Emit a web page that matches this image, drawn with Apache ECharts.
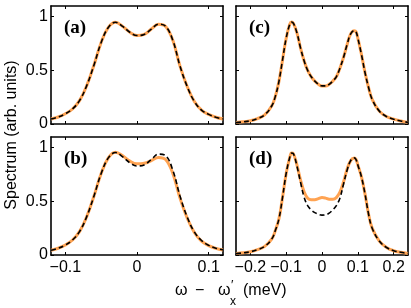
<!DOCTYPE html>
<html>
<head>
<meta charset="utf-8">
<script src="https://cdn.jsdelivr.net/npm/echarts@6/dist/echarts.min.js"></script>
<style>html,body{margin:0;padding:0;background:#fff}#c{width:411px;height:308px}</style>
</head>
<body>
<div id="c"></div>
<script>
// ---- data ----
const xLeft = [-0.12,-0.11,-0.10,-0.09,-0.08,-0.07,-0.06,-0.05,-0.04,-0.03,-0.02,-0.01,0,0.01,0.02,0.03,0.04,0.05,0.06,0.07,0.08,0.09,0.10,0.11,0.12];
const aDashed = [0.047,0.065,0.095,0.14,0.22,0.36,0.55,0.76,0.90,0.948,0.91,0.855,0.825,0.835,0.885,0.93,0.91,0.78,0.54,0.35,0.21,0.13,0.09,0.063,0.047];
const aSolid  = [0.047,0.065,0.095,0.14,0.22,0.36,0.55,0.76,0.90,0.948,0.91,0.855,0.825,0.835,0.885,0.93,0.91,0.78,0.54,0.35,0.21,0.13,0.09,0.063,0.047];
const bDashed = [0.045,0.063,0.093,0.14,0.22,0.36,0.55,0.76,0.905,0.955,0.915,0.86,0.83,0.84,0.89,0.94,0.925,0.79,0.55,0.355,0.215,0.135,0.09,0.063,0.047];
const bSolid  = [0.045,0.063,0.093,0.14,0.22,0.36,0.55,0.76,0.905,0.958,0.925,0.875,0.85,0.855,0.88,0.91,0.89,0.76,0.53,0.345,0.21,0.13,0.088,0.062,0.046];

const xRight = [-0.24,-0.22,-0.20,-0.18,-0.16,-0.14,-0.13,-0.12,-0.11,-0.10,-0.09,-0.085,-0.08,-0.07,-0.06,-0.05,-0.04,-0.03,-0.02,-0.01,0,0.01,0.02,0.03,0.04,0.05,0.06,0.07,0.08,0.09,0.095,0.10,0.11,0.12,0.13,0.14,0.16,0.18,0.20,0.22,0.24];
const cDashed = [0.013,0.02,0.03,0.05,0.085,0.17,0.26,0.40,0.60,0.80,0.93,0.95,0.94,0.85,0.71,0.59,0.50,0.44,0.40,0.37,0.355,0.355,0.37,0.40,0.44,0.52,0.62,0.74,0.84,0.87,0.86,0.80,0.65,0.48,0.34,0.23,0.12,0.07,0.045,0.028,0.015];
const cSolid  = [0.013,0.02,0.03,0.05,0.085,0.17,0.26,0.40,0.60,0.80,0.93,0.95,0.94,0.85,0.71,0.59,0.50,0.44,0.40,0.37,0.355,0.355,0.37,0.40,0.44,0.52,0.62,0.74,0.84,0.87,0.86,0.80,0.65,0.48,0.34,0.23,0.12,0.07,0.045,0.028,0.015];
const dDashed = [0.013,0.02,0.03,0.05,0.08,0.15,0.23,0.34,0.54,0.76,0.91,0.95,0.945,0.83,0.68,0.54,0.46,0.42,0.395,0.38,0.372,0.375,0.39,0.42,0.46,0.53,0.66,0.79,0.88,0.905,0.89,0.84,0.73,0.57,0.38,0.25,0.13,0.07,0.04,0.025,0.015];
const dSolid  = [0.013,0.02,0.03,0.05,0.08,0.15,0.23,0.34,0.54,0.76,0.91,0.95,0.945,0.84,0.70,0.59,0.53,0.515,0.515,0.525,0.535,0.53,0.52,0.52,0.535,0.585,0.68,0.80,0.88,0.905,0.89,0.84,0.73,0.57,0.38,0.25,0.13,0.07,0.04,0.025,0.015];

const xTicksLeft = [-0.1, 0, 0.1];
const xTicksRight = [-0.2, -0.1, 0, 0.1, 0.2];
const yTicks = [0, 0.5, 1];
const panelLabels = ['(a)', '(b)', '(c)', '(d)'];

// ---- chart ----
const FONT = '"Liberation Sans", Arial, Helvetica, sans-serif';
const ORANGE = '#FFA352';
const fmt = v => (v < 0 ? '\u2212' : '') + String(Math.abs(v));

const grids = [
  {left: 51, top: 6, width: 172, height: 118},   // a
  {left: 51, top: 137, width: 172, height: 118}, // b
  {left: 236, top: 6, width: 172, height: 118},  // c
  {left: 236, top: 137, width: 172, height: 118} // d
].map(g => Object.assign(g, {outerBoundsMode: 'none', containLabel: false}));

const xAxis = [], yAxis = [], series = [];
const lineCommon = {lineStyle: {color: '#000', width: 1.6}};

function addAxes(gi, xmin, xmax, xticks, showX, showY) {
  [['bottom', showX], ['top', false]].forEach(([pos, lab]) => {
    xAxis.push({
      type: 'value', gridIndex: gi, position: pos, min: xmin, max: xmax,
      axisLine: Object.assign({show: true, onZero: false}, lineCommon),
      axisTick: {show: true, inside: true, length: 3, customValues: xticks, lineStyle: {color: '#000', width: 1}},
      axisLabel: {show: lab, customValues: xticks, formatter: fmt, color: '#000', fontFamily: FONT, fontSize: 16, margin: 5},
      splitLine: {show: false}
    });
  });
  [['left', showY], ['right', false]].forEach(([pos, lab]) => {
    yAxis.push({
      type: 'value', gridIndex: gi, position: pos, min: 0, max: 1.1,
      axisLine: Object.assign({show: true, onZero: false}, lineCommon),
      axisTick: {show: true, inside: true, length: 3, customValues: yTicks, lineStyle: {color: '#000', width: 1}},
      axisLabel: {show: lab, customValues: yTicks, formatter: v => String(v), color: '#000', fontFamily: FONT, fontSize: 16, margin: 3},
      splitLine: {show: false}
    });
  });
}

addAxes(0, -0.12, 0.12, xTicksLeft, false, true);
addAxes(1, -0.12, 0.12, xTicksLeft, true, true);
addAxes(2, -0.24, 0.24, xTicksRight, false, false);
addAxes(3, -0.24, 0.24, xTicksRight, true, false);

const panels = [
  [xLeft, aSolid, aDashed],
  [xLeft, bSolid, bDashed],
  [xRight, cSolid, cDashed],
  [xRight, dSolid, dDashed]
];
panels.forEach(([xs, solid, dashed], gi) => {
  const ax = gi * 2;
  series.push({
    type: 'line', xAxisIndex: ax, yAxisIndex: ax, data: xs.map((x, i) => [x, solid[i]]),
    smooth: 0.4, showSymbol: false, symbol: 'none', clip: true,
    lineStyle: {color: ORANGE, width: 3}, z: 2, silent: true, animation: false
  });
  series.push({
    type: 'line', xAxisIndex: ax, yAxisIndex: ax, data: xs.map((x, i) => [x, dashed[i]]),
    smooth: 0.4, showSymbol: false, symbol: 'none', clip: true,
    lineStyle: {color: '#000', width: 1.6, type: [5, 3]}, z: 3, silent: true, animation: false
  });
});

const labelPos = [[64, 28], [64, 159], [249, 28], [249, 159]];
const graphic = panelLabels.map((t, i) => ({
  type: 'text', x: labelPos[i][0], y: labelPos[i][1],
  style: {text: t, fill: '#000', font: 'bold 19px "Liberation Serif", "DejaVu Serif", serif', align: 'left', verticalAlign: 'middle'}
}));
graphic.push({
  type: 'text', x: 12, y: 135, rotation: Math.PI / 2,
  style: {text: 'Spectrum (arb. units)', fill: '#000', font: '16px ' + FONT, align: 'center', verticalAlign: 'middle'}
});
const tf = '16px ' + FONT;
graphic.push({type: 'text', x: 175, y: 291, style: {text: '\u03c9', fill: '#000', font: tf, align: 'left', verticalAlign: 'middle'}});
graphic.push({type: 'text', x: 195, y: 291, style: {text: '\u2212', fill: '#000', font: tf, align: 'left', verticalAlign: 'middle'}});
graphic.push({type: 'text', x: 218, y: 291, style: {text: '\u03c9', fill: '#000', font: tf, align: 'left', verticalAlign: 'middle'}});
graphic.push({type: 'text', x: 231, y: 285, style: {text: '\u2032', fill: '#000', font: '13px ' + FONT, align: 'left', verticalAlign: 'middle'}});
graphic.push({type: 'text', x: 230, y: 302, style: {text: 'x', fill: '#000', font: '12px ' + FONT, align: 'left', verticalAlign: 'middle'}});
graphic.push({type: 'text', x: 243, y: 291, style: {text: '(meV)', fill: '#000', font: tf, align: 'left', verticalAlign: 'middle'}});

const chart = echarts.init(document.getElementById('c'), null, {renderer: 'canvas'});
chart.setOption({animation: false, backgroundColor: '#fff', grid: grids, xAxis, yAxis, series, graphic});
</script>
</body>
</html>
